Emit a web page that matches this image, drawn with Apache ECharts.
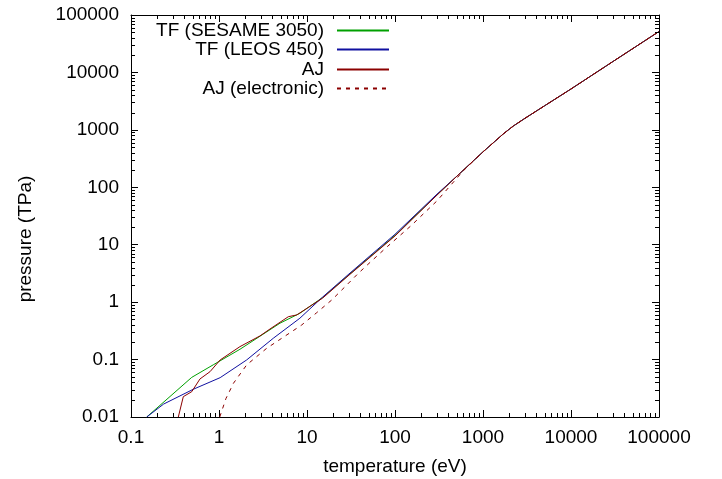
<!DOCTYPE html>
<html><head><meta charset="utf-8">
<script src="https://cdn.jsdelivr.net/npm/echarts@6/dist/echarts.min.js"></script>
<style>html,body{margin:0;padding:0;background:#fff}#c{width:722px;height:479px}</style>
</head><body><div id="c"></div>
<script>
// ---- data ----
const commonX = [500, 1000, 1300, 1700, 2200, 3000, 5000, 10000, 30000, 100000];
const commonY = [154, 414, 590, 850, 1160, 1590, 2620, 5150, 15500, 51600];

const sesameX = [0.151, 0.49, 0.86, 1.73, 4.93, 8.3, 15, 30, 100, 300];
const sesameY = [0.01, 0.049, 0.081, 0.151, 0.43, 0.64, 1.2, 3.0, 14.5, 74];

const leosX = [0.151, 0.235, 0.51, 1.03, 2.06, 4.14, 8.3, 15, 30, 100, 300];
const leosY = [0.01, 0.0168, 0.0304, 0.0484, 0.0984, 0.235, 0.525, 1.22, 3.1, 15.2, 76];

const ajX = [0.345, 0.393, 0.49, 0.608, 0.79, 1.03, 1.73, 2.92, 3.8, 6.14, 7.64, 15, 30, 100, 300];
const ajY = [0.01, 0.0226, 0.0276, 0.046, 0.0615, 0.0984, 0.168, 0.258, 0.341, 0.558, 0.598, 1.17, 2.95, 14.2, 73];

const ajeX = [1.02, 1.2, 1.46, 2.06, 3.48, 8.7, 12.9, 19.1, 27.1, 38.3, 55.8, 81.8, 150, 300, 600];
const ajeY = [0.01, 0.021, 0.0387, 0.0806, 0.157, 0.40, 0.656, 1.09, 1.86, 3.18, 5.43, 9.27, 21, 58, 195];

const seriesNames = ['TF (SESAME 3050)', 'TF (LEOS 450)', 'AJ', 'AJ (electronic)'];
const xDecades = [0.1, 1, 10, 100, 1000, 10000];
const yDecades = [0.01, 0.1, 1, 10, 100, 1000, 10000];
const minorMult = [2, 3, 4, 5, 6, 7, 8, 9];

function pairs(xs, ys) {
  const a = xs.map((x, i) => [x, ys[i]]);
  const last = xs[xs.length - 1];
  return a.concat(commonX.filter(x => x > last).map(x => [x, commonY[commonX.indexOf(x)]]));
}
function minors(decades) {
  const out = [];
  decades.forEach(d => minorMult.forEach(m => out.push(parseFloat((d * m).toPrecision(6)))));
  return out;
}
const xMinor = minors(xDecades);
const yMinor = minors(yDecades);

const FONT = '"Liberation Sans", Arial, Helvetica, sans-serif';
const FS = 19;
const fmt = v => String(parseFloat(Number(v).toPrecision(6)));

const chart = echarts.init(document.getElementById('c'), null, {renderer: 'canvas'});

const axisCommon = {
  type: 'log', logBase: 10, interval: 1,
  axisLine: {show: true, onZero: false, lineStyle: {color: '#000', width: 1}},
  axisTick: {show: true, inside: true, length: 7, lineStyle: {color: '#000', width: 1}},
  splitLine: {show: false},
  minorTick: {show: false}
};

const colors = ['#00a000', '#1010a0', '#8b0000', '#8b0000'];

function legendAt(i, top) {
  return {
    data: [seriesNames[i]], orient: 'vertical', align: 'right',
    right: 332, top: top, padding: 0, itemWidth: 52, itemHeight: 14,
    itemStyle: {opacity: 0},
    textStyle: {fontFamily: FONT, fontSize: FS, color: '#000', padding: [0, 8, 0, 0]},
    selectedMode: false
  };
}

const option = {
  animation: false,
  backgroundColor: '#fff',
  color: colors,
  legend: [legendAt(0, 21), legendAt(1, 40), legendAt(2, 60), legendAt(3, 79)],
  grid: {left: 131, right: 63, top: 15, bottom: 62, containLabel: false, outerBoundsMode: 'none'},
  xAxis: [
    Object.assign({}, axisCommon, {
      min: 0.1, max: 100000, position: 'bottom',
      name: 'temperature (eV)', nameLocation: 'middle', nameGap: 40,
      nameTextStyle: {fontFamily: FONT, fontSize: FS, color: '#000'},
      axisLabel: {show: true, margin: 11, formatter: fmt, fontFamily: FONT, fontSize: FS, color: '#000'}
    }),
    Object.assign({}, axisCommon, {
      min: 0.1, max: 100000, position: 'top', axisLabel: {show: false}
    })
  ],
  yAxis: [
    Object.assign({}, axisCommon, {
      min: 0.01, max: 100000, position: 'left',
      name: 'pressure (TPa)', nameLocation: 'middle', nameGap: 96,
      nameTextStyle: {fontFamily: FONT, fontSize: FS, color: '#000', padding: [0, 46, 0, 0]},
      axisLabel: {show: true, margin: 12, formatter: fmt, fontFamily: FONT, fontSize: FS, color: '#000'}
    }),
    Object.assign({}, axisCommon, {
      min: 0.01, max: 100000, position: 'right', axisLabel: {show: false}
    })
  ],
  series: [
    {name: seriesNames[0], type: 'line', data: pairs(sesameX, sesameY), showSymbol: false, symbol: 'none',
     lineStyle: {color: colors[0], width: 1}, itemStyle: {color: colors[0]}, z: 3},
    {name: seriesNames[1], type: 'line', data: pairs(leosX, leosY), showSymbol: false, symbol: 'none',
     lineStyle: {color: colors[1], width: 1}, itemStyle: {color: colors[1]}, z: 4},
    {name: seriesNames[2], type: 'line', data: pairs(ajX, ajY), showSymbol: false, symbol: 'none',
     lineStyle: {color: colors[2], width: 1}, itemStyle: {color: colors[2]}, z: 5},
    {name: seriesNames[3], type: 'line', data: pairs(ajeX, ajeY), showSymbol: false, symbol: 'none',
     lineStyle: {color: colors[3], width: 1, type: [4, 5]}, itemStyle: {color: colors[3]}, z: 6},
    {
      name: 'xminor', type: 'custom', silent: true, clip: false, z: 10,
      data: xMinor.map(v => [v, 1]),
      renderItem: function (params, api) {
        const p = api.coord([api.value(0), 1]);
        const cs = params.coordSys;
        const x = Math.round(p[0]) + 0.5;
        const b = cs.y + cs.height, t = cs.y;
        const st = {stroke: '#000', lineWidth: 1};
        return {type: 'group', children: [
          {type: 'line', shape: {x1: x, y1: b, x2: x, y2: b - 4}, style: st},
          {type: 'line', shape: {x1: x, y1: t, x2: x, y2: t + 4}, style: st}
        ]};
      }
    },
    {
      name: 'yminor', type: 'custom', silent: true, clip: false, z: 10,
      data: yMinor.map(v => [1, v]),
      renderItem: function (params, api) {
        const p = api.coord([1, api.value(1)]);
        const cs = params.coordSys;
        const y = Math.round(p[1]) + 0.5;
        const l = cs.x, r = cs.x + cs.width;
        const st = {stroke: '#000', lineWidth: 1};
        return {type: 'group', children: [
          {type: 'line', shape: {x1: l, y1: y, x2: l + 4, y2: y}, style: st},
          {type: 'line', shape: {x1: r, y1: y, x2: r - 4, y2: y}, style: st}
        ]};
      }
    }
  ]
};
chart.setOption(option);
</script>
</body></html>
